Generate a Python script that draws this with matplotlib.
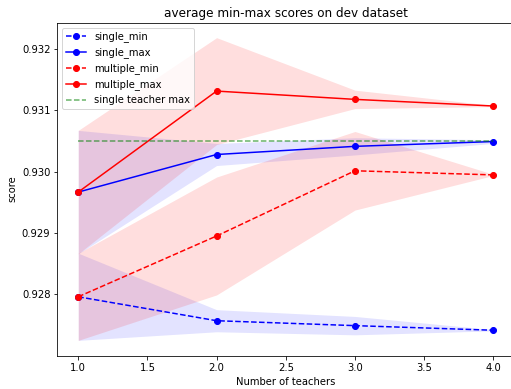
import numpy as np
import matplotlib
matplotlib.use('Agg')
import matplotlib.pyplot as plt

teachers = [1, 2, 3, 4]

single_min = [0.92796, 0.92757, 0.92749, 0.927415]
single_min_std = [0.00071, 0.00018, 0.00015, 0.00001]
single_max = [0.929665, 0.930277, 0.93041, 0.930488]
single_max_std = [0.001005, 0.00018, 0.00014, 0.00003]

multiple_min = [0.92796, 0.92895, 0.930012, 0.929945]
multiple_min_std = [0.00071, 0.00096, 0.00064, 0.00001]
multiple_max = [0.929665, 0.93131, 0.931175, 0.931067]
multiple_max_std = [0.001005, 0.00087, 0.00015, 0.00001]

single_teacher_max = 0.9305

fig = plt.figure(figsize=(511 / 72, 389 / 72), dpi=72)
ax = fig.add_axes([0.1125, 0.0861, 0.8935, 0.856])

def band(ax, x, m, s, color, alpha):
    m = np.array(m)
    s = np.array(s)
    ax.fill_between(x, m - s, m + s, color=color, alpha=alpha, linewidth=0)

band(ax, teachers, single_min, single_min_std, 'blue', 0.11)
band(ax, teachers, single_max, single_max_std, 'blue', 0.11)
band(ax, teachers, multiple_min, multiple_min_std, 'red', 0.13)
band(ax, teachers, multiple_max, multiple_max_std, 'red', 0.13)

ax.plot(teachers, single_min, 'o--', color='blue', label='single_min')
ax.plot(teachers, single_max, 'o-', color='blue', label='single_max')
ax.plot(teachers, multiple_min, 'o--', color='red', label='multiple_min')
ax.plot(teachers, multiple_max, 'o-', color='red', label='multiple_max')
ax.plot(teachers, [single_teacher_max] * len(teachers), '--', color='green',
        alpha=0.6, label='single teacher max')

ax.set_yticks([0.928, 0.929, 0.930, 0.931, 0.932])
ax.set_title('average min-max scores on dev dataset')
ax.set_xlabel('Number of teachers')
ax.set_ylabel('score')
ax.legend(loc='upper left')

fig.savefig('out.png', dpi=72)
